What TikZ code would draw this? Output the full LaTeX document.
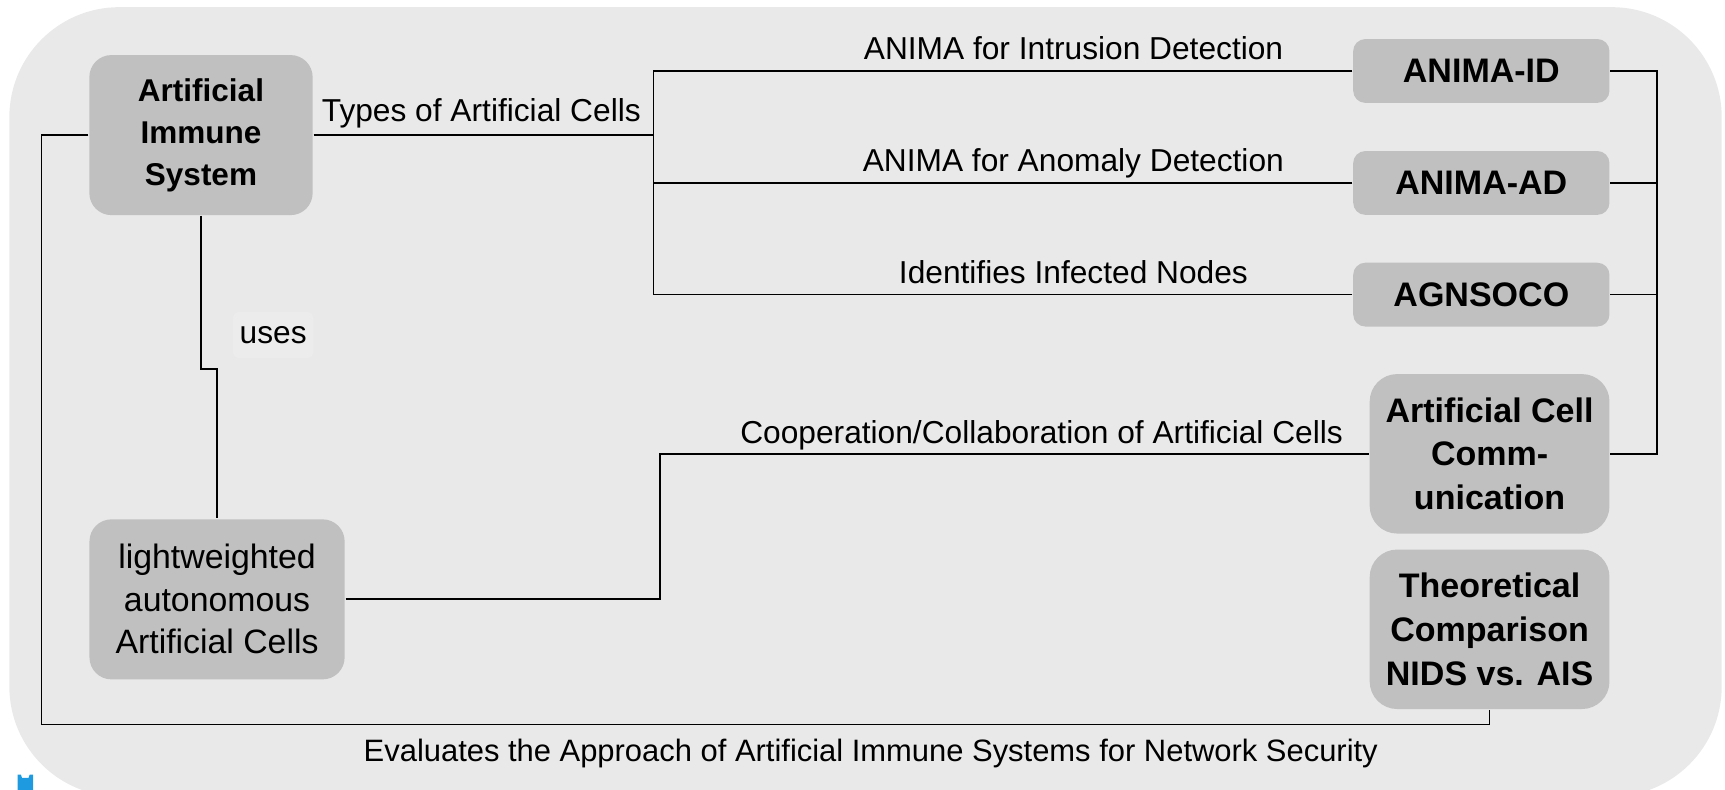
\documentclass[tikz,border=0pt]{standalone}
\usepackage{fontspec}
\setmainfont{Liberation Sans}
\definecolor{bggray}{HTML}{E9E9E9}
\definecolor{boxgray}{HTML}{C0C0C0}
\definecolor{usesgray}{HTML}{ECECEC}
\definecolor{logoblue}{HTML}{1E9BE0}
\tikzset{
  mainbox/.style={fill=boxgray, rounded corners=0.4cm, align=center, inner sep=0pt,
    minimum width=4.06cm, minimum height=2.91cm, font=\bfseries\fontsize{16.3}{21.6}\selectfont},
  cellbox/.style={fill=boxgray, rounded corners=0.22cm, align=center, inner sep=0pt,
    minimum width=4.66cm, minimum height=1.16cm, font=\bfseries\fontsize{17.6}{22.7}\selectfont},
  bigcell/.style={cellbox, rounded corners=0.5cm, minimum width=4.36cm, minimum height=2.9cm},
  lightcell/.style={mainbox, minimum width=4.64cm, font=\fontsize{17.5}{22}\selectfont},
  linklabel/.style={anchor=base, inner sep=0pt, font=\fontsize{16.4}{20}\selectfont},
  useslabel/.style={fill=usesgray, rounded corners=0.1cm, minimum width=1.46cm, minimum height=0.84cm,
    inner sep=0pt, font=\fontsize{16.4}{20}\selectfont},
  bus/.style={line width=1.3pt}
}
\begin{document}
\begin{tikzpicture}[x=0.02cm, y=-0.02cm, line width=0.9pt]
\useasboundingbox (0,0) rectangle (1568,718);
\fill [bggray, rounded corners=2cm] (8.5,6.5) rectangle (1565,724);
\fill [logoblue] (16,718) -- (16,704) -- (19,704) -- (20,707) -- (26,707) -- (27,704) -- (30,704) -- (30,718) -- cycle;

\node [mainbox] (ais) at (182.7,122.8) {Artificial\\Immune\\System};
\node [cellbox] (animaid) at (1346.5,64.5) {ANIMA-ID};
\node [cellbox] (animaad) at (1346.5,166.3) {ANIMA-AD};
\node [cellbox] (agnsoco) at (1346.5,267.8) {AGNSOCO};
\node [bigcell] (cellcomm) at (1354,412.5) {Artificial Cell\\Comm-\\unication};
\node [bigcell] (theory) at (1354,572) {Theoretical\\Comparison\\NIDS vs. AIS};
\node [lightcell] (cells) at (197.3,544.8) {lightweighted\\autonomous\\Artificial Cells};

\coordinate (typesplit) at (594,122.8);
\coordinate (cellbus) at (1506,412.5);
\coordinate (coopbend) at (599.8,544.8);
\coordinate (evalcorner) at (37.7,658.5);

\draw [bus] (ais.east) -- (typesplit);
\draw (animaid.west) -| (typesplit);
\draw (agnsoco.west) -| (typesplit);
\draw (animaad.west) -- (animaad.west -| typesplit);
\draw [bus] (animaid.east) -| (cellbus) -- (cellcomm.east);
\draw (animaad.east) -- (animaad.east -| cellbus);
\draw (agnsoco.east) -- (agnsoco.east -| cellbus);
\draw (ais.south) -- ++(0,139) -| (cells.north);
\draw (cells.east) -- (coopbend) |- (cellcomm.west);
\draw (ais.west) -| (evalcorner) -| (theory.south);

\node [linklabel] (typeslabel) at (437.5,110.6) {Types of Artificial Cells};
\node [linklabel] (idlabel) at (975.8,54.5) {ANIMA for Intrusion Detection};
\node [linklabel] (adlabel) at (975.6,156) {ANIMA for Anomaly Detection};
\node [linklabel] (agnlabel) at (975.7,257.6) {Identifies Infected Nodes};
\node [linklabel] (cooplabel) at (946.8,403) {Cooperation/Collaboration of Artificial Cells};
\node [linklabel, font=\fontsize{16}{20}\selectfont] (evallabel) at (791.5,692.4) {Evaluates the Approach of Artificial Immune Systems for Network Security};
\node [useslabel] (uses) at (248.3,304.5) {uses};
\end{tikzpicture}
\end{document}
